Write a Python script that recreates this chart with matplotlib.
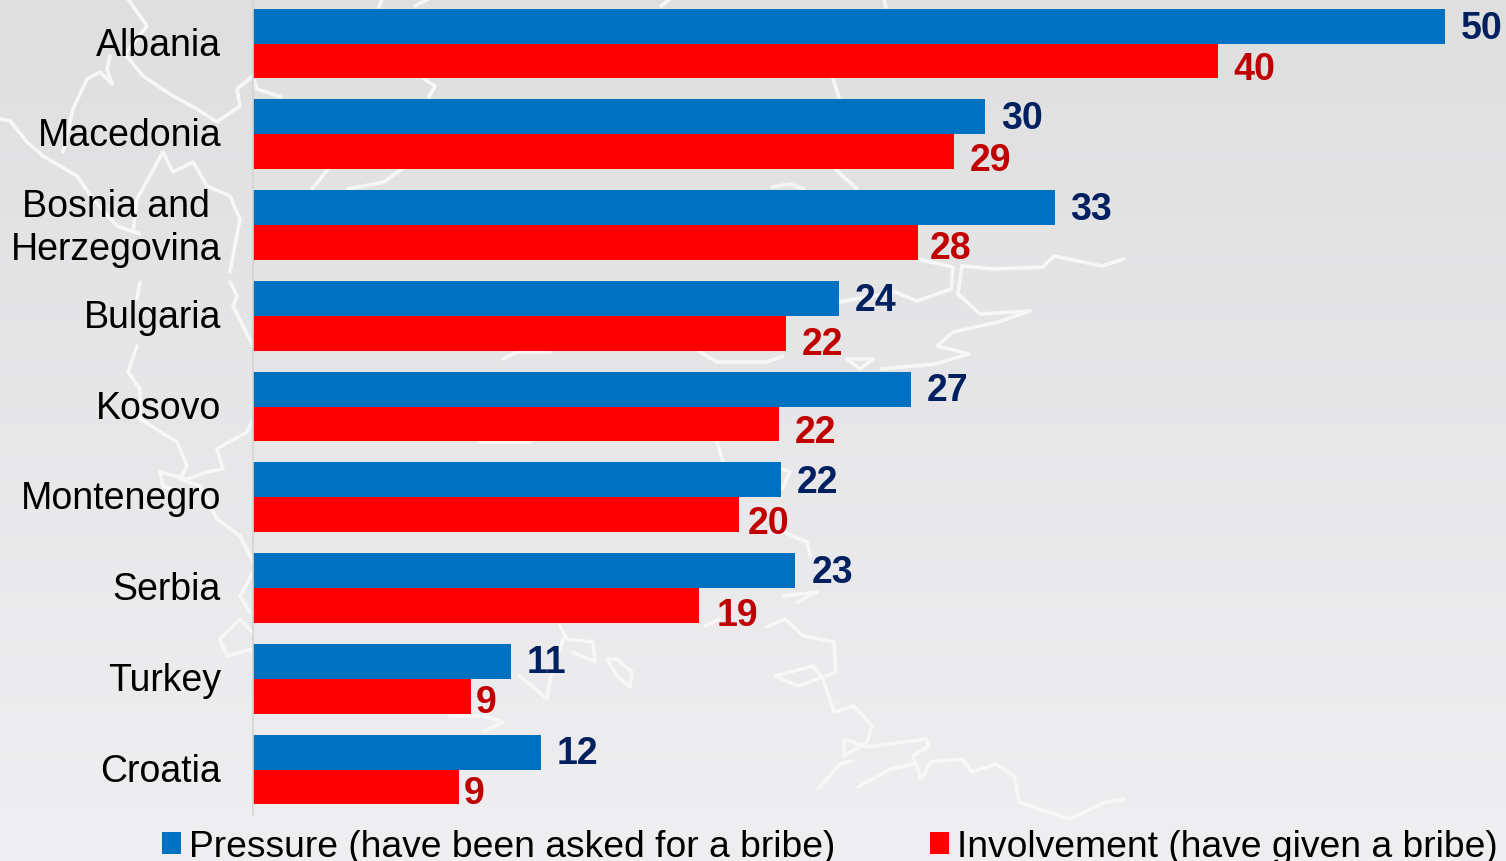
import numpy as np
import matplotlib.pyplot as plt
from matplotlib.transforms import ScaledTranslation

# --- Data ---
countries = ["Albania", "Macedonia", "Bosnia and\nHerzegovina", "Bulgaria", "Kosovo",
             "Montenegro", "Serbia", "Turkey", "Croatia"]
pressure = [49.65, 30.5, 33.4, 24.4, 27.4, 22.0, 22.6, 10.75, 12.0]
involvement = [40.2, 29.2, 27.7, 22.2, 21.9, 20.25, 18.6, 9.1, 8.6]
pressure_labels = [50, 30, 33, 24, 27, 22, 23, 11, 12]
involvement_labels = [40, 29, 28, 22, 22, 20, 19, 9, 9]

# hand placed data labels, pixel offsets from the bar end / bar centre
pressure_dy = [2, 1, 1, 2, 1, 2, 1, 1, 1]
involvement_dx = [16, 16, 12, 16, 16, 9, 17, 4, 4]
involvement_dy = [8, 8, 6, 11, 8, 8, 10, 6, 6]

# faint map behind the chart, figure pixels
map_lines = [
    [(128, 0), (147, 27), (125, 55), (143, 77), (173, 97), (197, 110), (217, 123), (240, 107), (237, 90), (253, 77)],
    [(110, 57), (107, 70), (112, 85), (100, 73), (87, 80), (73, 110), (63, 153)],
    [(0, 120), (10, 122), (27, 143), (43, 157), (60, 167), (77, 177), (93, 200), (117, 227), (140, 235)],
    [(133, 233), (137, 200), (163, 153), (173, 173), (193, 163), (207, 187), (230, 197), (240, 220), (230, 273)],
    [(140, 283), (137, 300)],
    [(137, 347), (128, 373), (140, 390), (140, 420), (177, 443), (187, 467), (180, 480), (200, 487), (217, 520), (240, 537), (253, 563)],
    [(230, 283), (237, 297), (233, 307), (253, 347)],
    [(253, 420), (247, 433), (217, 450), (223, 470), (207, 473), (187, 480), (160, 473), (163, 487), (180, 493)],
    [(253, 573), (240, 597), (250, 613)],
    [(252, 633), (240, 620), (220, 640), (227, 657), (252, 650)],
    [(382, 0), (379, 8)], [(415, 7), (428, 0)], [(661, 7), (670, 0)], [(884, 0), (886, 8)],
    [(254, 80), (257, 90), (281, 98)], [(424, 80), (435, 87), (429, 98)], [(833, 80), (839, 98)],
    [(328, 170), (312, 190)], [(402, 170), (384, 183), (348, 190)], [(835, 170), (857, 190)],
    [(772, 188), (790, 185), (804, 190)],
    [(917, 260), (953, 268), (951, 290), (917, 302), (895, 293), (840, 303)],
    [(962, 267), (958, 295), (980, 315), (1030, 312), (998, 323), (953, 333), (937, 347), (969, 355), (935, 365), (881, 370)],
    [(962, 267), (994, 270), (1043, 268), (1054, 257), (1102, 267), (1124, 260)],
    [(503, 360), (517, 353), (550, 353)], [(700, 353), (717, 363), (767, 363), (783, 357)],
    [(847, 360), (873, 360), (860, 370), (847, 360)], [(480, 443), (530, 443)],
    [(717, 443), (723, 463)], [(782, 470), (790, 473), (782, 490)], [(783, 533), (807, 543), (810, 557)],
    [(607, 660), (617, 660), (632, 673), (630, 688), (617, 677), (607, 660)],
    [(560, 627), (567, 640), (593, 643), (595, 663), (573, 653)],
    [(520, 677), (547, 700), (550, 680), (563, 640)],
    [(450, 717), (483, 717), (503, 723), (483, 733)],
    [(783, 597), (817, 593), (797, 603)],
    [(705, 627), (720, 620)],
    [(767, 628), (785, 620), (803, 637), (834, 643), (836, 673), (823, 678), (798, 687), (775, 677), (813, 667), (823, 680),
     (834, 713), (854, 707), (872, 727), (867, 743), (844, 757), (844, 740), (867, 748), (926, 740), (929, 747), (913, 757),
     (921, 780), (931, 763), (962, 760), (972, 773), (996, 765), (1014, 777), (1019, 803), (1070, 820), (1106, 803), (1124, 800)],
    [(818, 790), (840, 765), (852, 762)],
    [(858, 788), (890, 770), (915, 765)],
]

# --- Plotting ---
plt.rcParams["font.family"] = ["Liberation Sans", "DejaVu Sans"]
W, H = 1506, 862
fig = plt.figure(figsize=(W / 100, H / 100), dpi=100)

# background gradient and map
bg = fig.add_axes([0, 0, 1, 1])
top_col = np.array([0xDF, 0xDF, 0xE0]) / 255
bot_col = np.array([0xEF, 0xEF, 0xF1]) / 255
t = np.linspace(0, 1, 256)[:, None, None]
bg.imshow(top_col + (bot_col - top_col) * t, extent=[0, W, H, 0], aspect="auto")
for line in map_lines:
    xs, ys = zip(*line)
    bg.plot(xs, ys, color="#F7F7F8", lw=2.6, solid_capstyle="round", solid_joinstyle="round")
bg.set_xlim(0, W)
bg.set_ylim(H, 0)
bg.axis("off")

# chart
ax = fig.add_axes([253 / W, (H - 815.9) / H, 1 - 253 / W, 816.75 / H])
ax.patch.set_visible(False)
y = np.arange(len(countries))
bar_h = 0.384
b1 = ax.barh(y - bar_h / 2, pressure, bar_h, color="#0070C0", label="Pressure (have been asked for a bribe)")
b2 = ax.barh(y + bar_h / 2, involvement, bar_h, color="#FF0000", label="Involvement (have given a bribe)")
ax.set_xlim(0, (W - 253) / 24)
ax.set_ylim(len(countries) - 0.5, -0.5)
ax.xaxis.set_visible(False)
for side in ["top", "right", "bottom"]:
    ax.spines[side].set_visible(False)
ax.spines["left"].set_color("#D4D4D4")
ax.spines["left"].set_linewidth(1.2)
ax.set_yticks(y, countries)
ax.tick_params(axis="y", length=0, pad=23, labelsize=27, labelcolor="black")
for lab in ax.get_yticklabels():
    up = 5 if "\n" in lab.get_text() else 3
    lab.set_multialignment("center")
    lab.set_linespacing(1.24)
    lab.set_transform(lab.get_transform() + ScaledTranslation(0, up / 100, fig.dpi_scale_trans))

px = 0.72  # pixels to points
for i in y:
    ax.annotate(str(pressure_labels[i]), (pressure[i], i - bar_h / 2),
                xytext=(16 * px, -pressure_dy[i] * px), textcoords="offset points",
                ha="left", va="center", fontsize=27, fontweight="bold", color="#002060")
    ax.annotate(str(involvement_labels[i]), (involvement[i], i + bar_h / 2),
                xytext=(involvement_dx[i] * px, -involvement_dy[i] * px), textcoords="offset points",
                ha="left", va="center", fontsize=27, fontweight="bold", color="#C00000")

fig.legend(handles=[b1, b2], loc="lower left", bbox_to_anchor=(162 / W, -3 / H), ncol=2, frameon=False,
           fontsize=26.8, handlelength=0.52, handleheight=0.52, handletextpad=0.2,
           columnspacing=2.55, borderpad=0, borderaxespad=0)

plt.savefig("out.png", dpi=100)
